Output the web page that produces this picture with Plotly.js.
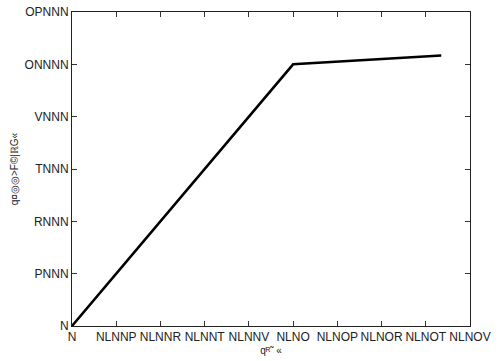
<!DOCTYPE html>
<html>
<head>
<meta charset="utf-8">
<script src="https://cdn.plot.ly/plotly-3.0.1.min.js"></script>
<style>html,body{margin:0;padding:0;background:#fff;}#chart{width:500px;height:361px;}</style>
</head>
<body>
<div id="chart"></div>
<script>
// data
const strainValues = [0, 0.01, 0.0167];
const stressValues = [0, 10000, 10340];
const xTickVals = [0, 0.002, 0.004, 0.006, 0.008, 0.01, 0.012, 0.014, 0.016, 0.018];
const xTickText = ["N", "NLNNP", "NLNNR", "NLNNT", "NLNNV", "NLNO", "NLNOP", "NLNOR", "NLNOT", "NLNOV"];
const yTickVals = [0, 2000, 4000, 6000, 8000, 10000, 12000];
const yTickText = ["N", "PNNN", "RNNN", "TNNN", "VNNN", "ONNNN", "OPNNN"];
const xTitle = "q\u1d3f\u02dc \u00ab";
const yTitle = "q\u00a4\u25ce\u25ce>F\u00a9|\u211dG\u00ab";

const font = {family: "Liberation Sans, Arial, sans-serif", size: 12, color: "#222"};
Plotly.newPlot("chart", [{
  x: strainValues, y: stressValues, type: "scatter", mode: "lines",
  line: {color: "#000", width: 2.5}
}], {
  width: 500, height: 361,
  margin: {l: 72, r: 30, t: 12, b: 35},
  paper_bgcolor: "#fff", plot_bgcolor: "#fff",
  showlegend: false,
  font: font,
  xaxis: {
    range: [0, 0.018], tickvals: xTickVals, ticktext: xTickText,
    ticks: "inside", ticklen: 5, tickcolor: "#333", mirror: "ticks",
    showline: true, linecolor: "#222", linewidth: 1, showgrid: false, zeroline: false,
    tickfont: font, ticklabelstandoff: 0,
    title: {text: xTitle, font: {family: font.family, size: 10, color: "#222"}, standoff: 3}
  },
  yaxis: {
    range: [0, 12000], tickvals: yTickVals, ticktext: yTickText,
    ticks: "inside", ticklen: 5, tickcolor: "#333", mirror: "ticks",
    showline: true, linecolor: "#222", linewidth: 1, showgrid: false, zeroline: false,
    tickfont: font, ticklabelstandoff: 0,
    title: {text: yTitle, font: {family: font.family, size: 10, color: "#222"}, standoff: 4}
  }
}, {displayModeBar: false, staticPlot: true});
</script>
</body>
</html>
